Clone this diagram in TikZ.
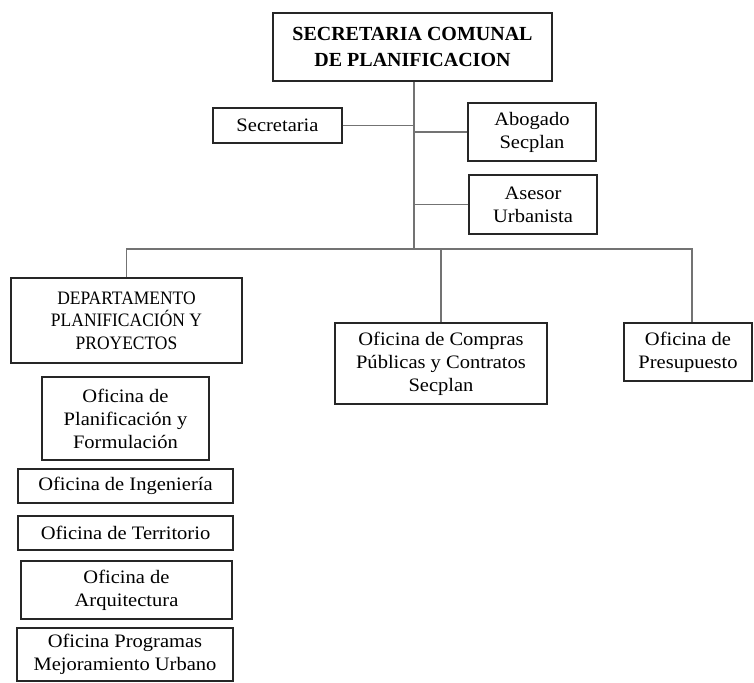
\documentclass[tikz,border=0pt]{standalone}
\usepackage{fontspec}
\setmainfont{Liberation Serif}
\newfontfamily\boxfont[FakeStretch=1.08]{Liberation Serif}
\newfontfamily\capsfont[FakeStretch=0.92]{Liberation Serif}
\begin{document}
\begin{tikzpicture}[x=1pt,y=-1pt,
  box/.style={draw=black!85, line width=1.4pt, inner sep=0pt, align=center,
    font=\boxfont\fontsize{19}{23}\selectfont, text=black},
  conn/.style={draw=black!55, line width=1.1pt}]
\useasboundingbox (0,0) rectangle (754,682);

% head of the unit
\node[box, minimum width=279pt, minimum height=68pt,
  font=\fontsize{20}{26}\selectfont\bfseries] (top) at (412.5,47)
  {SECRETARIA COMUNAL\\DE PLANIFICACION};

% staff positions
\node[box, minimum width=129pt, minimum height=35pt] (secr) at (277.5,125.5) {Secretaria};
\node[box, minimum width=128pt, minimum height=58pt] (abog) at (532,132) {Abogado\\Secplan};
\node[box, minimum width=128pt, minimum height=59pt] (ases) at (533,204.5) {Asesor\\Urbanista};

% second level
\node[box, minimum width=231pt, minimum height=85pt,
  font=\capsfont\fontsize{19}{22.5}\selectfont] (dept) at (126.5,320.5)
  {DEPARTAMENTO\\PLANIFICACIÓN Y\\PROYECTOS};
\node[box, minimum width=212pt, minimum height=81pt] (compras) at (441,363.5)
  {Oficina de Compras\\Públicas y Contratos\\Secplan};
\node[box, minimum width=128pt, minimum height=58pt] (presup) at (688,352)
  {Oficina de\\Presupuesto};

% offices of the department
\node[box, minimum width=167pt, minimum height=83pt] (planif) at (125.5,418.5)
  {Oficina de\\Planificación y\\Formulación};
\node[box, minimum width=215pt, minimum height=34pt] (ing) at (125.5,486) {Oficina de Ingeniería};
\node[box, minimum width=215pt, minimum height=34pt] (terr) at (125.5,533) {Oficina de Territorio};
\node[box, minimum width=211pt, minimum height=58pt] (arq) at (126.5,590) {Oficina de\\Arquitectura};
\node[box, minimum width=216pt, minimum height=53pt] (prog) at (125,654.5)
  {Oficina Programas\\Mejoramiento Urbano};

% trunk and branches
\coordinate (j) at (414,249);
\draw[conn] (top.south -| j) -- (j);
\draw[conn] (secr.east) -- (secr.east -| j);
\draw[conn] (abog.west) -- (abog.west -| j);
\draw[conn] (ases.west) -- (ases.west -| j);
\draw[conn] (dept.north) |- (j);
\draw[conn] (j) -| ([xshift=4pt]presup.north);
\draw[conn] (compras.north) -- (compras.north |- j);
\end{tikzpicture}
\end{document}
